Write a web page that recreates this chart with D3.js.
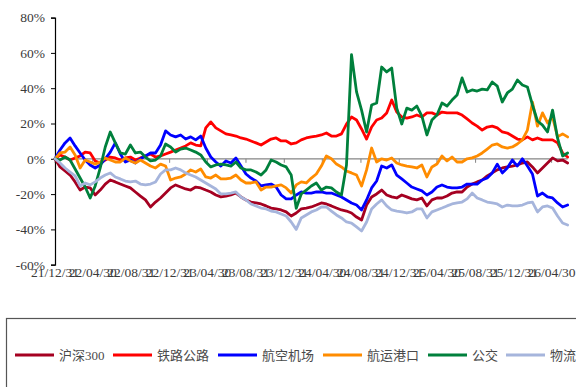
<!DOCTYPE html>
<html><head><meta charset="utf-8">
<script src="https://cdn.jsdelivr.net/npm/d3@7/dist/d3.min.js"></script>
<style>body{margin:0;background:#fff;}svg{display:block;}</style>
</head><body>
<svg id="chart" width="576" height="387"></svg>
<script>
// ---- data ----
const seriesNames = ["沪深300", "铁路公路", "航空机场", "航运港口", "公交", "物流"];
const seriesColors = ["#A50021", "#FF0000", "#0000FF", "#FF8C00", "#00803C", "#A6B5DC"];
const tickLabels = ["21/12/31","22/04/30","22/08/31","22/12/31","23/04/30","23/08/31","23/12/31",
                    "24/04/30","24/08/31","24/12/31","25/04/30","25/08/31","25/12/31","26/04/30"];
const yTicks = [80, 60, 40, 20, 0, -20, -40, -60];
const startLabel = "21/12/31";
const stepDays = 16;

const hs300 = [0,-4.6,-6.9,-9.2,-13.1,-17.7,-16,-16.5,-20.5,-17.7,
-14.3,-12,-13.1,-14.3,-15.4,-16.5,-18.8,-21.1,-23.3,-27.3,
-24.5,-22.2,-19.4,-16.5,-14.8,-16,-17.1,-17.7,-16,-16.5,
-17.7,-18.8,-20.5,-21.6,-21.1,-20.5,-19.4,-21.6,-23.3,-24.5,
-25,-25.6,-26.7,-27.9,-28.4,-29,-30.1,-32.4,-30.7,-28.4,
-27.9,-27.3,-26.2,-25,-25.6,-26.7,-27.9,-29,-29.6,-30.7,
-33,-34.7,-26.2,-21.6,-19.9,-17.7,-20.5,-21.6,-22.2,-20.5,
-21.6,-22.7,-23.3,-22.2,-26.7,-23.3,-22.2,-22.2,-21.1,-19.4,
-18.8,-18.8,-16,-14.3,-13.1,-12,-9.7,-8,-6.3,-5.2,
-4.6,-4.1,-3.5,-2.4,-1.8,-4.6,-8,-5.2,-2.4,0.5,
-1.2,-0.7,-2.4];
const railway = [0,2.2,1,-0.7,0.5,1.6,3.8,3.3,-1.2,-2.4,
-0.7,1,0.5,-0.7,0.5,1,-0.7,0.5,1.6,2.7,
1,1.6,2.7,3.8,5,6.1,7.3,9,7.8,7.3,
17.5,20.9,17.5,15.8,14.1,13.5,12.9,11.8,11.2,10.1,
9,7.8,9.5,11.2,11.8,10.1,10.1,8.4,9,10.7,
11.8,12.4,12.9,13.5,14.6,12.9,12.9,14.1,19.7,23.7,
22,16.9,11.2,18,22,23.1,26,33.3,26.5,23.7,
23.1,23.7,24.8,23.7,26,26,24.8,26.5,26,26,
26,24.8,22.6,20.3,18.5,16.3,18,18.5,17.5,15.2,
14.6,12.9,11.2,10.7,12.4,10.7,11.8,10.7,10.7,10.7,
9,3.3,1];
const airline = [0,5,9,11.8,7.3,3.3,-0.7,-3.5,-5.2,-3.5,
0,3.8,9,2.7,-1.8,-0.7,-2.4,0,1.6,3.3,
3.3,7.8,15.8,13.5,12.4,13.5,11.2,12.4,10.7,12.9,
6.1,1,-1.8,-4.1,-1.2,-2.4,0.5,-4.1,-8.6,-10.9,
-12.6,-15.4,-14.8,-14.3,-16,-20.5,-22.7,-22.7,-20.5,-18.8,
-19.4,-19.4,-18.8,-18.8,-19.4,-19.4,-20.5,-21.6,-23.3,-25,
-26.2,-29,-23.3,-16.5,-12.6,-4.1,-5.2,-3.5,-9.2,-11.4,
-13.7,-16,-17.1,-18.2,-20.5,-18.8,-16,-14.8,-16,-16.5,
-16.5,-16,-14.3,-14.3,-14.3,-12,-10.9,-8,-3,-8,
-5.2,-0.7,-4.1,0,-4.1,-8.6,-21.1,-19.4,-21.6,-22.2,
-25,-27.3,-26.2];
const shipping = [0,3.3,3.8,6.7,2.2,-5.2,-0.7,-1.8,-3,-1.8,
0.5,-0.7,-1.8,-1.8,0.5,-1.2,-2.4,-0.7,-2.4,-4.1,
-5.2,-3,-4.1,-12,-10.9,-10.3,-8.6,-6.3,-7.5,-5.8,
-10.3,-10.9,-9.2,-11.4,-11.4,-10.9,-9.2,-12,-13.7,-13.7,
-13.1,-17.7,-16,-16,-15.4,-14.8,-16.5,-19.4,-14.8,-13.1,
-13.7,-10.9,-8.6,-4.1,1.6,0,-3,-4.6,-6.9,-8,
-9.2,-15.4,-6.3,6.1,-1.8,0,-0.7,0.5,-2.4,-3.5,
-4.1,-4.6,-5.2,-3.5,-10.3,-4.6,-3,1.6,-1.2,1,
-1.8,-1.8,0,0.5,1.6,3.3,5.5,7.8,8.4,6.7,
6.1,6.7,8.4,10.7,16.3,32.1,18.5,26,20.3,23.7,
12.4,14.1,12.4];
const bus = [0,-0.7,1,-0.7,-5.8,-10.9,-16,-22.2,-15.4,-5.2,
6.7,15.2,9,3.3,2.7,7.8,3.3,3.8,1,-1.2,
-0.7,1.6,8.4,6.7,3.8,5.5,6.1,5,3.8,2.2,
-1.8,-4.6,-3.5,-3,-3.5,-4.1,-1.8,-5.2,-6.3,-6.3,
-7.5,-9.2,-6.3,-0.7,-1.8,-3.5,-4.6,-9.2,-28,-19.9,
-17.7,-15.4,-13.7,-17.7,-16,-16.5,-18.8,-20.5,-3.5,59,
37.9,27.6,15.2,30.5,31.6,52,49.2,51.4,28.7,19.7,
28.7,27.6,29.9,24.2,13.5,22,24.8,31.6,29.9,33.3,
36.1,45.8,37.8,39,38.4,39.5,39,43.5,41.2,32.2,
37.3,39.5,44.6,41.8,40.7,30.5,21.4,19.1,15.2,27.6,
11.7,1.6,3.3];
const logistics = [0,-2.4,-5.2,-7.5,-9.7,-15.4,-13.7,-14.8,-13.1,-10.9,
-9.2,-8,-10.3,-11.4,-12.6,-13.1,-12.6,-14.3,-14.8,-14.3,
-13.1,-8.6,-6.3,-6.3,-5.2,-6.3,-8,-9.2,-10.3,-12,
-13.7,-15.4,-17.1,-19.9,-19.9,-19.4,-18.8,-21.6,-23.3,-25.6,
-26.7,-27.9,-28.4,-29.6,-30.1,-31.3,-32.4,-35.8,-40,-33.5,
-31.8,-30.1,-29,-27.3,-27.3,-29.6,-31.8,-33.5,-35.8,-36.4,
-38.6,-40.9,-35.8,-28.4,-25.6,-23.3,-26.7,-29,-29.6,-30.1,
-30.7,-30.1,-28.4,-28.4,-33.5,-30.1,-29,-27.9,-26.7,-25.6,
-25,-24.5,-22.7,-19.4,-22.2,-23.3,-24.5,-25,-25.6,-27.3,
-26.2,-26.7,-26.7,-26.2,-25,-24.5,-30.1,-27.3,-26.7,-27.9,
-32.4,-36.4,-37.5];

const allSeries = [hs300, railway, airline, shipping, bus, logistics];

// ---- chart ----
const svg = d3.select("#chart");
const parse = d3.timeParse("%y/%m/%d");
const tickDates = tickLabels.map(parse);
const start = parse(startLabel);
const dates = hs300.map((_, i) => d3.timeDay.offset(start, i * stepDays));

const x = d3.scaleTime().domain([tickDates[0], tickDates[tickDates.length - 1]]).range([55, 551.6]);
const y = d3.scaleLinear().domain([-60, 80]).range([264.7, 17.6]);

const axisFont = "'Liberation Serif','Times New Roman',serif";
const textColor = "#3a3a3a";

// zero (category) axis line with ticks
const xEnd = x(dates[dates.length - 1]);
svg.append("line").attr("x1", 55).attr("x2", xEnd).attr("y1", y(0)).attr("y2", y(0))
  .attr("stroke", "#858585").attr("stroke-width", 1.3);
svg.append("g").selectAll("line").data(tickDates).join("line")
  .attr("x1", d => x(d)).attr("x2", d => x(d))
  .attr("y1", y(0)).attr("y2", y(0) + 4)
  .attr("stroke", "#858585").attr("stroke-width", 1);

// x labels (low position)
svg.append("g").selectAll("text").data(tickLabels).join("text")
  .attr("x", (d, i) => x(tickDates[i]))
  .attr("y", 277)
  .attr("text-anchor", "middle")
  .attr("font-family", axisFont).attr("font-size", 13.5)
  .attr("fill", textColor)
  .text(d => d);

// y axis
const yAxis = d3.axisLeft(y).tickValues(yTicks).tickSize(4).tickPadding(6)
  .tickFormat(d => d + "%");
const gy = svg.append("g").attr("transform", "translate(55,0)").call(yAxis);
gy.select(".domain").attr("stroke", "#000").attr("stroke-width", 1.2);
gy.selectAll(".tick line").attr("stroke", "#000");
gy.selectAll(".tick text").attr("font-family", axisFont).attr("font-size", 13.5).attr("fill", textColor);

// series lines
const line = d3.line().x((d, i) => x(dates[i])).y(d => y(d));
svg.append("g").selectAll("path").data(allSeries).join("path")
  .attr("d", d => line(d))
  .attr("fill", "none")
  .attr("stroke", (d, i) => seriesColors[i])
  .attr("stroke-width", 2.8)
  .attr("stroke-linejoin", "round")
  .attr("stroke-linecap", "round");

// legend
svg.append("rect").attr("x", 6.5).attr("y", 318.5).attr("width", 620).attr("height", 120)
  .attr("fill", "none").attr("stroke", "#555").attr("stroke-width", 1.2);
const legendX = [15, 113, 218, 323, 428, 506];
const lg = svg.append("g").selectAll("g").data(seriesNames).join("g")
  .attr("transform", (d, i) => `translate(${legendX[i]},355)`);
lg.append("line").attr("x1", 0).attr("x2", 39).attr("y1", 0).attr("y2", 0)
  .attr("stroke", (d, i) => seriesColors[i]).attr("stroke-width", 3);
lg.append("text").attr("x", 44).attr("y", 5)
  .attr("font-family", "'Liberation Serif','Noto Sans CJK SC',serif")
  .attr("font-size", 13).attr("fill", "#4a4a4a")
  .text(d => d);
</script>
</body></html>
